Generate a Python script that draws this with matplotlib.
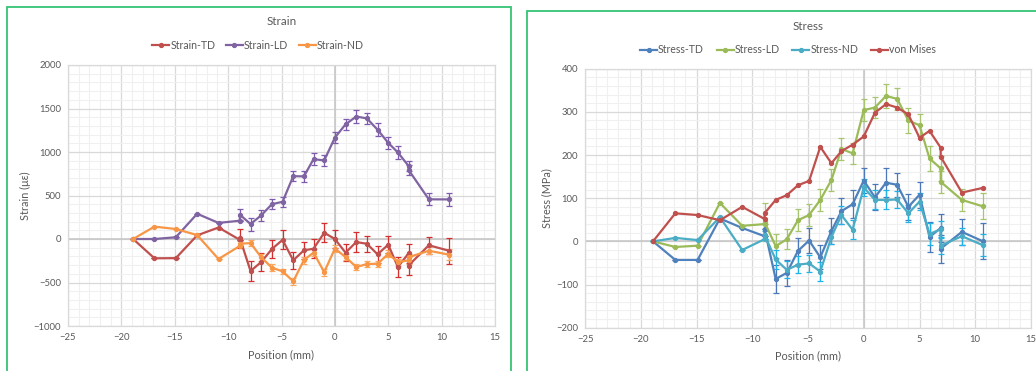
import matplotlib
matplotlib.use('Agg')
import matplotlib.pyplot as plt
from matplotlib.patches import Rectangle
from matplotlib.ticker import MultipleLocator

plt.rcParams['font.family'] = ['Lato', 'DejaVu Sans']

# positions (mm), shared by all series
position = [-18.9, -16.9, -14.9, -12.9, -10.9, -8.9, -8.9, -7.9, -6.9, -5.9, -4.9,
            -3.9, -2.9, -2.0, -1.0, 0.0, 1.0, 2.0, 3.0, 4.0, 5.0, 5.9, 6.9, 6.9,
            8.8, 10.7]

# strain (micro-strain)
strain_td = [0, -222, -220, 42, 132, -10, 10, -368, -265, -115, -10, -245, -130,
             -112, 72, 0, -157, -35, -55, -176, -65, -322, -165, -305, -72, -135]
strain_td_err = [0, 0, 0, 0, 0, 0, 110, 110, 100, 100, 110, 100, 100, 110, 110,
                 100, 100, 110, 95, 100, 100, 110, 110, 110, 100, 150]
strain_ld = [0, 0, 20, 290, 185, 210, 280, 172, 272, 400, 428, 722, 720, 918,
             903, 1165, 1318, 1408, 1386, 1256, 1105, 995, 840, 795, 456, 455]
strain_ld_err = [0, 0, 0, 0, 0, 0, 60, 75, 60, 60, 60, 60, 60, 70, 65, 60, 60,
                 70, 65, 75, 65, 75, 60, 60, 70, 75]
strain_nd = [0, 142, 115, 45, -230, -80, -55, -47, -210, -330, -372, -487, -242,
             -157, -380, -111, -207, -322, -288, -284, -172, -265, -245, -210,
             -135, -180]
strain_nd_err = [0, 0, 0, 0, 0, 0, 30, 30, 40, 40, 30, 40, 40, 40, 40, 40, 40,
                 40, 35, 35, 40, 40, 40, 40, 40, 60]

# stress (MPa)
stress_td = [0, -43, -43, 53, 31, 12, 29, -87, -73, -22, 2, -37, 24, 70, 86,
             141, 102, 136, 131, 80, 108, 10, 31, -17, 22, 0]
stress_td_err = [0, 0, 0, 0, 0, 0, 0, 33, 30, 30, 30, 28, 30, 30, 32, 30, 30,
                 33, 28, 30, 30, 35, 33, 32, 30, 42]
stress_ld = [0, -13, -10, 89, 36, 40, 45, -11, 5, 49, 61, 96, 142, 214, 204,
             304, 310, 337, 330, 280, 269, 192, 169, 138, 96, 81]
stress_ld_err = [0, 0, 0, 0, 0, 0, 45, 27, 23, 25, 25, 25, 25, 25, 25, 25, 25,
                 27, 25, 28, 25, 28, 28, 25, 25, 30]
stress_nd = [0, 8, 3, 56, -20, 5, 15, -42, -66, -54, -51, -70, 10, 61, 27, 125,
             96, 96, 97, 65, 92, 17, 28, -10, 12, -9]
stress_nd_err = [0, 0, 0, 0, 0, 0, 10, 22, 20, 20, 20, 22, 15, 20, 22, 20, 22,
                 22, 20, 20, 20, 25, 20, 20, 20, 25]
von_mises = [0, 65, 61, 49, 80, 52, 65, 96, 107, 130, 140, 219, 181, 209, 224,
             243, 298, 318, 310, 294, 240, 256, 217, 196, 113, 124]

TEXT = '#595959'

fig = plt.figure(figsize=(10.36, 3.71), dpi=100)

# excel chart frames (green selection border), bottoms cut off by the screenshot
for x0, x1, y0 in [(7, 511, 6.5), (527, 1100, 10.5)]:
    fig.patches.append(Rectangle((x0 / 1036, -0.5), (x1 - x0) / 1036, 1 - y0 / 371 + 0.5,
                                 transform=fig.transFigure, fill=False,
                                 edgecolor='#35C474', lw=1.3, zorder=0))


def style_axes(ax, xlim, ylim, ymajor, yminor):
    ax.set_xlim(*xlim)
    ax.set_ylim(*ylim)
    ax.xaxis.set_major_locator(MultipleLocator(5))
    ax.xaxis.set_minor_locator(MultipleLocator(1))
    ax.yaxis.set_major_locator(MultipleLocator(ymajor))
    ax.yaxis.set_minor_locator(MultipleLocator(yminor))
    ax.grid(which='minor', color='#F0F0F0', lw=0.8)
    ax.grid(which='major', color='#D9D9D9', lw=0.9)
    ax.set_axisbelow(True)
    ax.axhline(0, color='#C8C8C8', lw=1.2, zorder=1)
    ax.axvline(0, color='#C8C8C8', lw=1.2, zorder=1)
    for s in ax.spines.values():
        s.set_color('#D9D9D9')
        s.set_linewidth(0.9)
    ax.tick_params(which='both', length=0, labelsize=6.8, labelcolor=TEXT, pad=5)
    ax.set_xlabel('Position (mm)', fontsize=7.8, color=TEXT, labelpad=5)


def series(ax, y, err, color, ecolor, label):
    ax.plot(position, y, color=color, lw=1.6, marker='o', ms=2.8, label=label, zorder=3)
    if err is not None:
        ax.errorbar(position, y, yerr=err, fmt='none', ecolor=ecolor, elinewidth=0.9,
                    capsize=2.2, capthick=0.9, zorder=2)


# ---- Strain ----
ax1 = fig.add_axes([68 / 1036, 1 - 326 / 371, 427 / 1036, 261 / 371])
style_axes(ax1, (-25, 15), (-1000, 2000), 500, 100)
series(ax1, strain_td, strain_td_err, '#C0504D', '#D42E2E', 'Strain-TD')
series(ax1, strain_ld, strain_ld_err, '#8064A2', '#7E5BAF', 'Strain-LD')
series(ax1, strain_nd, strain_nd_err, '#F79646', '#F9A860', 'Strain-ND')
ax1.set_ylabel('Strain (\u03bc\u03b5)', fontsize=7.8, color=TEXT, labelpad=2)
ax1.set_title('Strain', fontsize=8.4, color=TEXT, pad=29)
ax1.legend(loc='lower center', bbox_to_anchor=(0.445, 1.018), ncol=3, frameon=False,
           fontsize=7.6, labelcolor=TEXT, handlelength=1.6, handletextpad=0.1,
           columnspacing=1.0)

# ---- Stress ----
ax2 = fig.add_axes([585 / 1036, 1 - 327.7 / 371, 446 / 1036, 259 / 371])
style_axes(ax2, (-25, 15), (-200, 400), 100, 20)
series(ax2, stress_td, stress_td_err, '#4F81BD', '#4A78B8', 'Stress-TD')
series(ax2, stress_ld, stress_ld_err, '#9BBB59', '#A9C46E', 'Stress-LD')
series(ax2, stress_nd, stress_nd_err, '#4BACC6', '#1FB4E8', 'Stress-ND')
series(ax2, von_mises, None, '#C0504D', None, 'von Mises')
ax2.set_ylabel('Stress (MPa)', fontsize=7.8, color=TEXT, labelpad=3)
ax2.set_title('Stress', fontsize=8.4, color=TEXT, pad=28)
ax2.legend(loc='lower center', bbox_to_anchor=(0.455, 1.015), ncol=4, frameon=False,
           fontsize=7.6, labelcolor=TEXT, handlelength=1.6, handletextpad=0.1,
           columnspacing=1.2)

fig.savefig('out.png', dpi=100)
